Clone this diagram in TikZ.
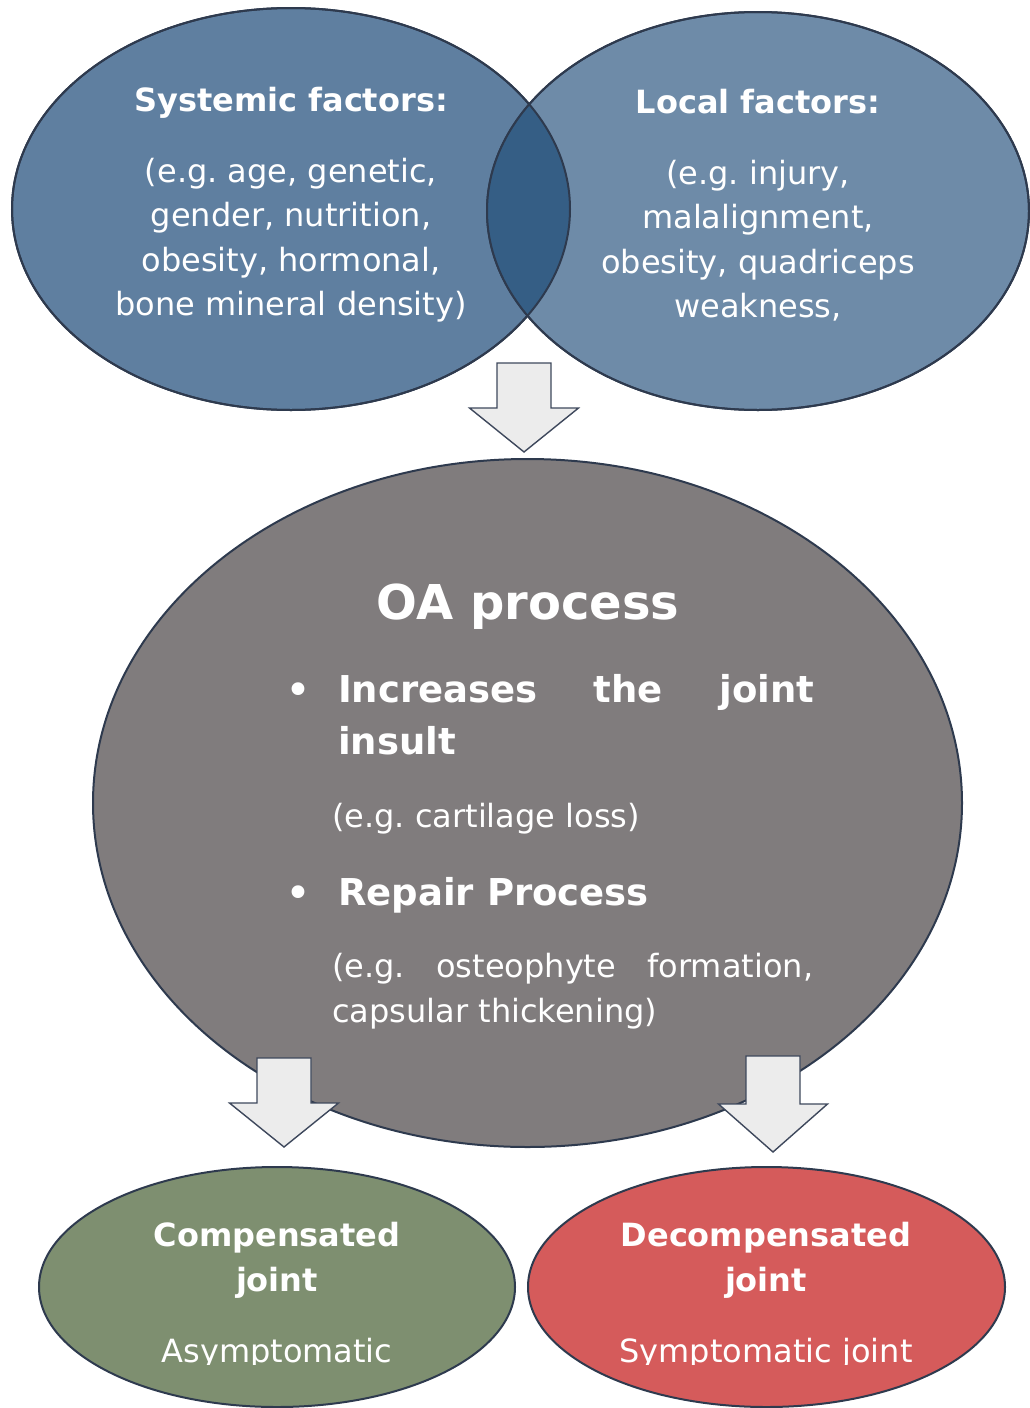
\documentclass[tikz,border=0pt]{standalone}
\usepackage{fontspec}
\setmainfont{DejaVu Sans}
\usetikzlibrary{shapes.geometric}
\definecolor{sysc}{RGB}{95,127,160}
\definecolor{locc}{RGB}{110,139,168}
\definecolor{ovc}{RGB}{53,94,133}
\definecolor{edgec}{RGB}{46,58,78}
\definecolor{grayc}{RGB}{128,124,125}
\definecolor{arrfill}{RGB}{236,236,236}
\definecolor{arredge}{RGB}{62,72,92}
\definecolor{greenc}{RGB}{126,143,112}
\definecolor{redc}{RGB}{213,91,91}
\frenchspacing
\newcommand\oaarrow[4]{%
  \draw[barrow] (#1-27,#2) -- (#1+27,#2) -- (#1+27,#3) -- (#1+54.5,#3)
    -- (#1,#4) -- (#1-54.5,#3) -- (#1-27,#3) -- cycle;}
\begin{document}
\begin{tikzpicture}[x=1pt,y=-1pt,
  ell/.style={ellipse, draw=edgec, line width=2pt, inner sep=0pt, outer sep=0pt},
  outline/.style={draw=edgec, line width=2pt},
  barrow/.style={fill=arrfill, draw=arredge, line width=1.4pt, line join=miter},
  txt/.style={text=white, inner sep=0pt, anchor=base, font=\fontsize{32}{38}\selectfont},
  btxt/.style={text=white, inner sep=0pt, anchor=base, font=\fontsize{32}{38}\selectfont\bfseries},
  htxt/.style={text=white, inner sep=0pt, anchor=base west, font=\fontsize{37}{42}\selectfont\bfseries},
  ltxt/.style={text=white, inner sep=0pt, anchor=base west, font=\fontsize{32}{38}\selectfont},
  bul/.style={text=white, inner sep=0pt, anchor=base, font=\fontsize{44}{44}\selectfont},
]
\useasboundingbox (0,0) rectangle (1029,1408);

% top ellipses
\node[ell, fill=sysc, minimum width=558pt, minimum height=402pt] (sys) at (291,209) {};
\node[ell, fill=locc, minimum width=542pt, minimum height=398pt] (loc) at (758,211) {};
\begin{scope}
  \clip (291,209) ellipse [x radius=279pt, y radius=201pt];
  \fill[ovc] (758,211) ellipse [x radius=271pt, y radius=199pt];
\end{scope}
\draw[outline] (291,209) ellipse [x radius=279pt, y radius=201pt];
\draw[outline] (758,211) ellipse [x radius=271pt, y radius=199pt];

\node[btxt] (systitle) at (291,111) {Systemic factors:};
\node[txt] (sys1) at (291,182) {(e.g. age, genetic,};
\node[txt] (sys2) at (291,226.5) {gender, nutrition,};
\node[txt] (sys3) at (291,271) {obesity, hormonal,};
\node[txt] (sys4) at (291,315.5) {bone mineral density)};

\node[btxt] (loctitle) at (758,113) {Local factors:};
\node[txt] (loc1) at (758,184) {(e.g. injury,};
\node[txt] (loc2) at (758,228.5) {malalignment,};
\node[txt] (loc3) at (758,273) {obesity, quadriceps};
\node[txt] (loc4) at (758,317.5) {weakness,};

% top arrow
\oaarrow{524}{363}{408}{452}

% middle ellipse
\node[ell, fill=grayc, minimum width=869pt, minimum height=688pt] (oa) at (527.5,803) {};
\node[text=white, inner sep=0pt, anchor=base, font=\fontsize{48}{52}\selectfont\bfseries] (oatitle) at (528,619) {OA process};
\node[bul] (b1) at (298,705) {•};
\node[htxt] (inc1) at (338,702) {\makebox[476pt][s]{Increases the joint}};
\node[htxt] (inc2) at (338,754) {insult};
\node[ltxt] (inc3) at (332,827) {(e.g. cartilage loss)};
\node[bul] (b2) at (298,908) {•};
\node[htxt] (rep1) at (338,905) {Repair Process};
\node[ltxt] (rep2) at (332,977) {\makebox[481pt][s]{(e.g. osteophyte formation,}};
\node[ltxt] (rep3) at (332,1022) {capsular thickening)};

% lower arrows
\oaarrow{284}{1058}{1103}{1147}
\oaarrow{773}{1056}{1104}{1152}

% bottom ellipses
\node[ell, fill=greenc, minimum width=476pt, minimum height=240pt] (comp) at (277,1287) {};
\node[ell, fill=redc, minimum width=477pt, minimum height=240pt] (decomp) at (766.5,1287) {};

\node[btxt] (comp1) at (277,1246) {Compensated};
\node[btxt] (comp2) at (277,1291) {joint};
\node[btxt] (dec1) at (766,1246) {Decompensated};
\node[btxt] (dec2) at (766,1291) {joint};
\begin{scope}
  \clip (0,0) rectangle (1029,1364);
  \node[txt] (comp3) at (277,1362.5) {Asymptomatic};
  \node[txt] (dec3) at (766,1362.5) {Symptomatic joint};
\end{scope}
\end{tikzpicture}
\end{document}
